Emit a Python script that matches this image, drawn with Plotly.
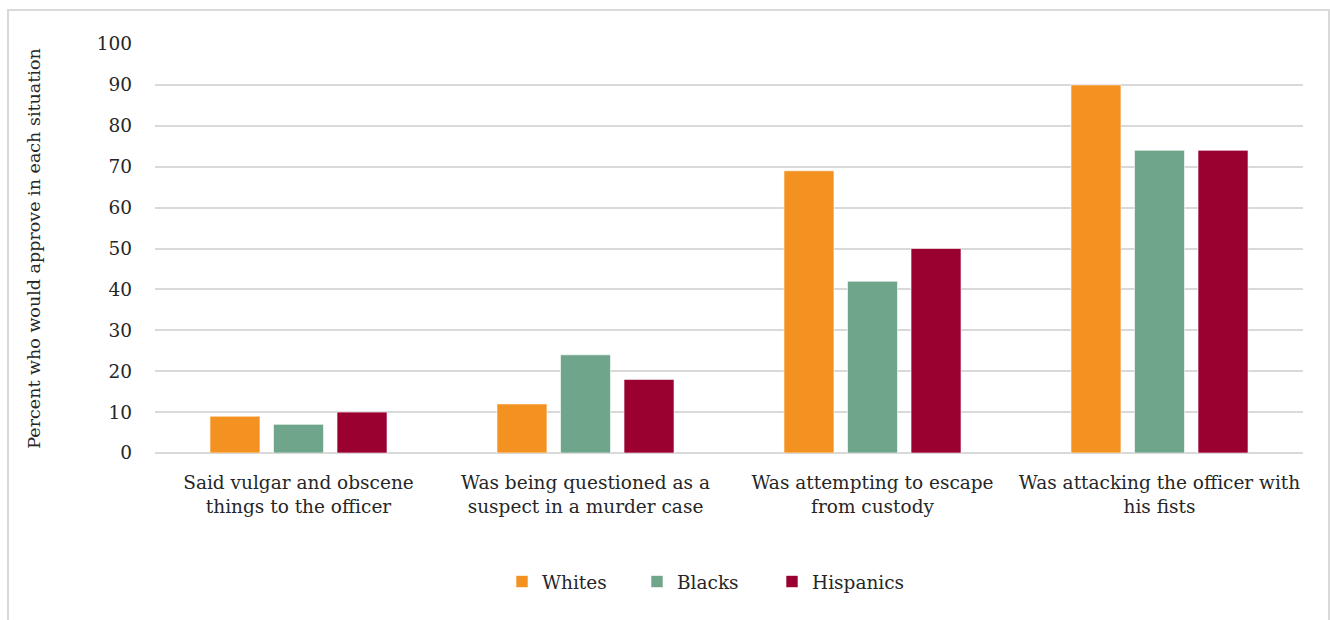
import plotly.graph_objects as go

categories = ["Said vulgar and obscene<br>things to the officer",
              "Was being questioned as a<br>suspect in a murder case",
              "Was attempting to escape<br>from custody",
              "Was attacking the officer with<br>his fists"]
whites = [9, 12, 69, 90]
blacks = [7, 24, 42, 74]
hispanics = [10, 18, 50, 74]
y_ticks = [0, 10, 20, 30, 40, 50, 60, 70, 80, 90, 100]

FONT = "DejaVu Serif"
TXT = "#262626"
FS = 18.5

fig = go.Figure()
for name, vals, col in [("Whites", whites, "#F39220"),
                        ("Blacks", blacks, "#6FA58A"),
                        ("Hispanics", hispanics, "#9A0030")]:
    fig.add_trace(go.Bar(x=categories, y=vals, name=name,
                         marker=dict(color=col, line=dict(color="rgba(255,255,255,0.6)", width=1))))

L, R, T, B = 155, 27, 44, 167
W, H = 1330, 620
pw, ph = W - L - R, H - T - B

def px_x(p):
    return (p - L) / pw

def px_y(p):
    return (H - B - p) / ph

fig.add_shape(type="rect", xref="paper", yref="paper",
              x0=px_x(8), x1=px_x(1329), y0=px_y(640), y1=px_y(10),
              line=dict(color="#d9d9d9", width=2), fillcolor="rgba(0,0,0,0)", layer="below")

fig.update_layout(
    width=W, height=H,
    margin=dict(l=L, r=R, t=T, b=B, autoexpand=False),
    paper_bgcolor="white", plot_bgcolor="white",
    barmode="group", bargap=0.336, bargroupgap=0.213,
    font=dict(family=FONT, color=TXT, size=FS),
    showlegend=True,
    legend=dict(orientation="h", x=px_x(502), xanchor="left",
                y=px_y(582), yanchor="middle",
                font=dict(size=FS, color=TXT), itemwidth=30,
                entrywidth=90, entrywidthmode="pixels",
                traceorder="normal"),
    xaxis=dict(showgrid=False, showline=False, ticks="",
               tickfont=dict(size=FS, color=TXT), ticklabelstandoff=16),
    yaxis=dict(range=[0, 100], tickvals=y_ticks, showgrid=True,
               gridcolor="#d9d9d9", gridwidth=1.5, zeroline=True,
               zerolinecolor="#d9d9d9", zerolinewidth=1.5,
               tickfont=dict(size=FS, color=TXT), ticks="", ticklabelstandoff=22,
               title=dict(text="Percent who would approve in each situation",
                          font=dict(size=17.5, color=TXT), standoff=51)),
)

fig.write_html("out.html")
